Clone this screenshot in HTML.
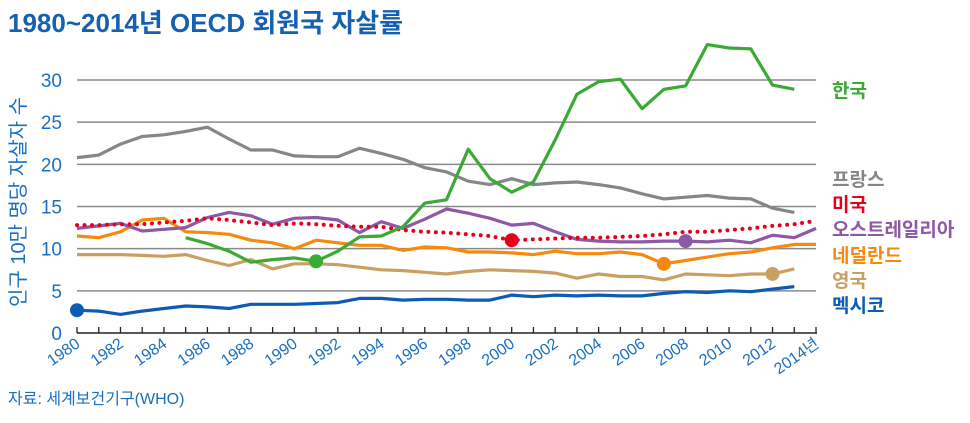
<!DOCTYPE html>
<html><head><meta charset="utf-8"><style>
body{margin:0;background:#fff;width:970px;height:418px;overflow:hidden;font-family:"Liberation Sans","Noto Sans CJK KR",sans-serif}
</style></head><body>
<svg id="c" width="970" height="418" xmlns="http://www.w3.org/2000/svg" style="font-family:'Liberation Sans','Noto Sans CJK KR',sans-serif">
<text x="8" y="32" font-size="26" font-weight="bold" fill="#1560b0">1980~2014년 OECD 회원국 자살률</text>
<text transform="translate(25,202) rotate(-90)" text-anchor="middle" font-size="20" fill="#1a6fc0">인구 10만 명당 자살자 수</text>
<text x="8" y="404" font-size="16" fill="#1a6fc0">자료: 세계보건기구(WHO)</text>
<g id="grid"></g><g id="axis"></g><g id="series"></g><g id="labels"></g>
</svg>
<script>
const years=[];for(let y=1980;y<=2014;y++)years.push(y);
const yTicks=[0,5,10,15,20,25,30];
const xTickLabels=["1980","1982","1984","1986","1988","1990","1992","1994","1996","1998","2000","2002","2004","2006","2008","2010","2012","2014년"];
const franceStart=1980;
const france=[20.8,21.1,22.4,23.3,23.5,23.9,24.4,23.0,21.7,21.7,21.0,20.9,20.9,21.9,21.3,20.6,19.6,19.1,18.0,17.6,18.3,17.6,17.8,17.9,17.6,17.2,16.5,15.9,16.1,16.3,16.0,15.9,14.8,14.3];
const koreaStart=1985;
const korea=[11.3,10.6,9.7,8.4,8.7,8.9,8.5,9.7,11.4,11.5,12.6,15.4,15.8,21.8,18.3,16.7,17.9,22.9,28.3,29.8,30.1,26.6,28.9,29.3,34.2,33.8,33.7,29.4,28.9];
const usaStart=1980;
const usa=[12.8,12.8,12.9,12.9,13.1,13.3,13.6,13.4,13.1,12.8,13.0,12.9,12.7,12.6,12.6,12.2,12.0,11.9,11.7,11.5,11.0,11.1,11.2,11.3,11.3,11.4,11.5,11.7,12.0,12.0,12.2,12.4,12.7,12.9,13.3];
const australiaStart=1980;
const australia=[12.4,12.7,13.0,12.1,12.3,12.5,13.7,14.3,13.9,12.9,13.6,13.7,13.4,11.9,13.2,12.4,13.5,14.7,14.2,13.6,12.8,13.0,12.0,11.1,10.9,10.8,10.8,10.9,10.9,10.8,11.0,10.7,11.6,11.3,12.4];
const netherlandsStart=1980;
const netherlands=[11.5,11.3,12.0,13.4,13.6,12.0,11.9,11.7,11.0,10.7,10.0,11.0,10.7,10.4,10.4,9.8,10.2,10.1,9.6,9.6,9.5,9.3,9.7,9.4,9.4,9.6,9.3,8.2,8.6,9.0,9.4,9.6,10.1,10.5,10.5];
const ukStart=1980;
const uk=[9.3,9.3,9.3,9.2,9.1,9.3,8.6,8.0,8.7,7.6,8.2,8.2,8.1,7.8,7.5,7.4,7.2,7.0,7.3,7.5,7.4,7.3,7.1,6.5,7.0,6.7,6.7,6.3,7.0,6.9,6.8,7.0,7.0,7.6];
const mexicoStart=1980;
const mexico=[2.7,2.6,2.2,2.6,2.9,3.2,3.1,2.9,3.4,3.4,3.4,3.5,3.6,4.1,4.1,3.9,4.0,4.0,3.9,3.9,4.5,4.3,4.5,4.4,4.5,4.4,4.4,4.7,4.9,4.8,5.0,4.9,5.2,5.5];
const markerYears={korea:1991,usa:2000,australia:2008,netherlands:2007,uk:2012,mexico:1980};

const NS="http://www.w3.org/2000/svg";
const x=yr=>77+(yr-1980)*(816-77)/34;
const y=v=>333-v*(333-80)/30;
function mk(tag,attrs,parent){const e=document.createElementNS(NS,tag);for(const k in attrs)e.setAttribute(k,attrs[k]);parent.appendChild(e);return e;}
const grid=document.getElementById('grid'),axis=document.getElementById('axis'),series=document.getElementById('series'),labels=document.getElementById('labels');
yTicks.forEach(t=>{
  if(t>0){const l=mk('line',{x1:77,x2:816,y1:y(t),y2:y(t),stroke:'#8a8a8a','stroke-width':1.5},grid);
  
  }
  const tx=mk('text',{x:62,y:y(t)+7,'text-anchor':'end','font-size':19,fill:'#1a6fc0'},grid);
  tx.textContent=t;
  
  
});
const base=mk('line',{x1:77,x2:817,y1:333,y2:333,stroke:'#222','stroke-width':1.5},axis);


years.forEach(yr=>{const t=mk('line',{x1:x(yr),x2:x(yr),y1:327,y2:333,stroke:'#222','stroke-width':1.3},axis);

});
xTickLabels.forEach((lab,i)=>{const yr=1980+i*2;const t=mk('text',{transform:`translate(${x(yr)+4},${346}) rotate(-35)`,'text-anchor':'end','font-size':16,fill:'#1a6fc0'},axis);
t.textContent=lab;

});
function draw(name,data,start,color,dotted){
  const pts=data.map((v,i)=>x(start+i).toFixed(1)+','+y(v).toFixed(1)).join(' ');
  const a={points:pts,fill:'none',stroke:color,'stroke-width':dotted?4:3.2,'stroke-linejoin':'round'};
  if(dotted){a['stroke-dasharray']='0 7.5';a['stroke-linecap']='round';}
  const p=mk('polyline',a,series);
  
  
  if(markerYears[name]!==undefined){const my=markerYears[name];const c=mk('circle',{cx:x(my),cy:y(data[my-start]),r:7,fill:color},series);
  
  }
}
draw('france',france,franceStart,'#868686');
draw('uk',uk,ukStart,'#c9a060');
draw('netherlands',netherlands,netherlandsStart,'#f7890e');
draw('australia',australia,australiaStart,'#8e58a5');
draw('usa',usa,usaStart,'#e5001c',true);
draw('mexico',mexico,mexicoStart,'#0d5bb5');
draw('korea',korea,koreaStart,'#3aaa35');
const legend=[["한국","#3aaa35",97,"korea"],["프랑스","#868686",186,"france"],["미국","#e5001c",211,"usa"],["오스트레일리아","#8e58a5",236,"australia"],["네덜란드","#f7890e",262,"netherlands"],["영국","#c9a060",287,"uk"],["멕시코","#0d5bb5",312,"mexico"]];
legend.forEach(l=>{const t=mk('text',{x:832,y:l[2],'font-size':19,'font-weight':'bold',fill:l[1]},labels);
t.textContent=l[0];

});
</script>
</body></html>
